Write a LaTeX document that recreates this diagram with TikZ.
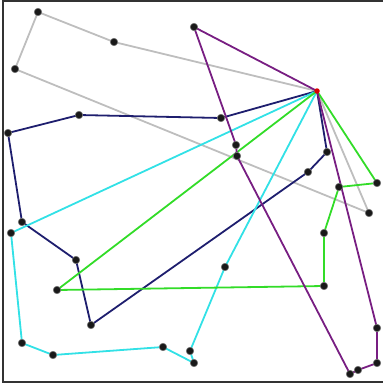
\documentclass[tikz,border=0pt]{standalone}
\usepackage{tikz}

\definecolor{routegray}{RGB}{190,190,190}
\definecolor{routenavy}{RGB}{30,30,110}
\definecolor{routecyan}{RGB}{50,225,230}
\definecolor{routegreen}{RGB}{50,220,40}
\definecolor{routepurple}{RGB}{120,30,130}

\begin{document}
\begin{tikzpicture}[
  x=1pt, y=-1pt,
  cust/.style={circle, fill=black!90, draw=black!55, line width=0.6pt,
               inner sep=0pt, minimum size=7.5pt},
  depot/.style={circle, fill=red!85!black, inner sep=0pt, minimum size=5.5pt},
  route/.style={line width=1.8pt, line join=round}]
  \useasboundingbox (0,0) rectangle (383,386);
  \draw[line width=2pt, black!80] (383,1) -- (3,1) -- (3,382) -- (383,382);

  % depot and customers (coordinates only, dots drawn last)
  \coordinate (dep) at (317,91);
  % gray
  \coordinate (g1) at (114,42);
  \coordinate (g2) at (38,12);
  \coordinate (g3) at (15,69);
  \coordinate (g4) at (369,213);
  % navy
  \coordinate (n1) at (221,118);
  \coordinate (n2) at (79,115);
  \coordinate (n3) at (8,133);
  \coordinate (n4) at (22,222);
  \coordinate (n5) at (76,260);
  \coordinate (n6) at (91,325);
  \coordinate (n7) at (308,172);
  \coordinate (n8) at (327,152);
  % cyan
  \coordinate (c1) at (11,233);
  \coordinate (c2) at (22,343);
  \coordinate (c3) at (53,355);
  \coordinate (c4) at (163,347);
  \coordinate (c5) at (194,363);
  \coordinate (c6) at (190,351);
  \coordinate (c7) at (225,267);
  % green
  \coordinate (e1) at (57,290);
  \coordinate (e2) at (324,286);
  \coordinate (e3) at (324,233);
  \coordinate (e4) at (339,187);
  \coordinate (e5) at (377,183);
  % purple
  \coordinate (p1) at (194,27);
  \coordinate (p2) at (236,145);
  \coordinate (p3) at (237,156);
  \coordinate (p4) at (350,374);
  \coordinate (p5) at (358,370);
  \coordinate (p6) at (377,363);
  \coordinate (p7) at (377,328);

  \draw[route, routegray] (dep) -- (g1) -- (g2) -- (g3) -- (g4) -- (dep);
  \draw[route, routenavy] (dep) -- (n1) -- (n2) -- (n3) -- (n4) -- (n5)
        -- (n6) -- (n7) -- (n8) -- (dep);
  \draw[route, routecyan] (dep) -- (c1) -- (c2) -- (c3) -- (c4) -- (c5)
        -- (c6) -- (c7) -- (dep);
  \draw[route, routegreen] (dep) -- (e1) -- (e2) -- (e3) -- (e4) -- (e5)
        -- (dep);
  \draw[route, routepurple] (dep) -- (p1) -- (p2) -- (p3) -- (p4) -- (p5)
        -- (p6) -- (p7) -- (dep);

  % dots over the lines
  \foreach \n in {g1,g2,g3,g4,n1,n2,n3,n4,n5,n6,n7,n8,c1,c2,c3,c4,c5,c6,c7,
                  e1,e2,e3,e4,e5,p1,p2,p3,p4,p5,p6,p7}
    \node[cust] (dot-\n) at (\n) {};
  \node[depot] (dot-dep) at (dep) {};
\end{tikzpicture}
\end{document}
